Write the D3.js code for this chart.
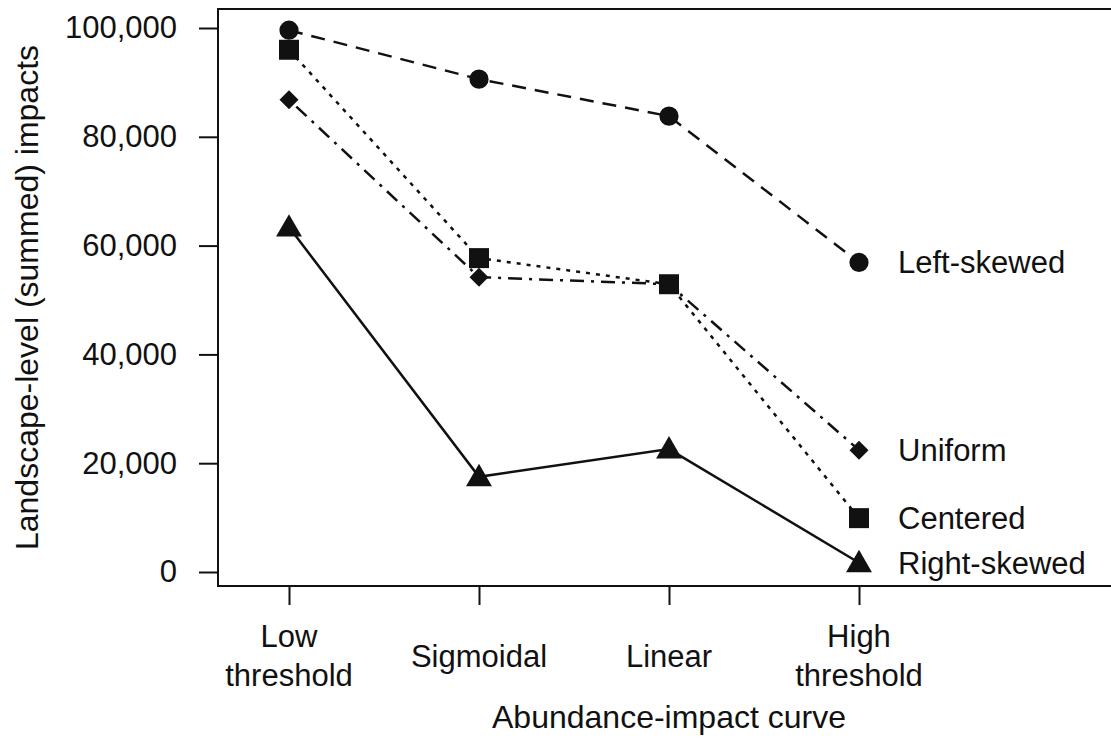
<!DOCTYPE html>
<html>
<head>
<meta charset="utf-8">
<script src="https://cdn.jsdelivr.net/npm/d3@7"></script>
<style>
  html, body { margin: 0; padding: 0; background: #fff; overflow: hidden; }
  svg { display: block; font-family: "Liberation Sans", Arial, sans-serif; }
</style>
</head>
<body>
<svg id="chart" width="1111" height="740"></svg>
<script>
// Abundance-impact curve types (x categories)
const curves = ["Low threshold", "Sigmoidal", "Linear", "High threshold"];
const curveLabelLines = [["Low", "threshold"], ["Sigmoidal"], ["Linear"], ["High", "threshold"]];

// Landscape-level (summed) impacts for each abundance distribution
const leftSkewed  = [99600, 90600, 83800, 56900];
const centered    = [96000, 57700, 52900, 9900];
const uniform     = [86800, 54200, 52900, 22400];
const rightSkewed = [63400, 17500, 22600, 1700];

const seriesNames = ["Left-skewed", "Uniform", "Centered", "Right-skewed"];
const yTicks = [0, 20000, 40000, 60000, 80000, 100000];

const series = [
  { name: seriesNames[0], values: leftSkewed,  symbol: d3.symbolCircle,   size: 290, dash: "14,9" },
  { name: seriesNames[1], values: uniform,     symbol: "diamond",         size: 0,   dash: "3,7,14,7" },
  { name: seriesNames[2], values: centered,    symbol: d3.symbolSquare,   size: 400, dash: "4,6" },
  { name: seriesNames[3], values: rightSkewed, symbol: d3.symbolTriangle, size: 290, dash: null }
];

const svg = d3.select("#chart");
const box = { left: 218, right: 1120, top: 9, bottom: 586 };

const x = d3.scalePoint().domain(curves).range([289, 859]);
const y = d3.scaleLinear().domain([0, 100000]).range([572, 28]);

const ink = "#111";
const tickFont = "31px";
const titleFont = "32px";

// plot frame
svg.append("rect")
  .attr("x", box.left).attr("y", box.top)
  .attr("width", box.right - box.left).attr("height", box.bottom - box.top)
  .attr("fill", "none").attr("stroke", ink).attr("stroke-width", 2);

// y axis
const yAxis = svg.append("g")
  .attr("transform", `translate(${box.left},0)`)
  .call(d3.axisLeft(y).tickValues(yTicks).tickFormat(d3.format(",")).tickSize(19).tickPadding(22));
yAxis.select(".domain").remove();
yAxis.selectAll(".tick line").attr("stroke", ink).attr("stroke-width", 2);
yAxis.selectAll(".tick text").attr("fill", ink).style("font-size", tickFont);

// x axis
const xAxis = svg.append("g")
  .attr("transform", `translate(0,${box.bottom})`)
  .call(d3.axisBottom(x).tickSize(19).tickFormat(""));
xAxis.select(".domain").remove();
xAxis.selectAll(".tick line").attr("stroke", ink).attr("stroke-width", 2);

// multi-line category labels
const xLab = svg.append("g");
curves.forEach((c, i) => {
  const lines = curveLabelLines[i];
  const t = xLab.append("text")
    .attr("x", x(c)).attr("text-anchor", "middle")
    .attr("fill", ink).style("font-size", tickFont);
  lines.forEach((ln, j) => {
    const base = lines.length === 1 ? 667 : 647 + j * 39;
    t.append("tspan").attr("x", x(c)).attr("y", base).text(ln);
  });
});

// axis titles
svg.append("text")
  .attr("x", (box.left + box.right) / 2).attr("y", 728)
  .attr("text-anchor", "middle").attr("fill", ink).style("font-size", titleFont)
  .text("Abundance-impact curve");

svg.append("text")
  .attr("transform", `translate(38,${(box.top + box.bottom) / 2}) rotate(-90)`)
  .attr("text-anchor", "middle").attr("fill", ink).style("font-size", titleFont)
  .text("Landscape-level (summed) impacts");

// lines and markers
const line = d3.line().x((d, i) => x(curves[i])).y(d => y(d));

const diamond = {
  draw(ctx, size) {
    const r = 9.5;
    ctx.moveTo(0, -r); ctx.lineTo(r, 0); ctx.lineTo(0, r); ctx.lineTo(-r, 0); ctx.closePath();
  }
};

series.forEach(s => {
  const p = svg.append("path")
    .datum(s.values)
    .attr("d", line)
    .attr("fill", "none").attr("stroke", ink).attr("stroke-width", 2.5);
  if (s.dash) p.attr("stroke-dasharray", s.dash);

  const sym = d3.symbol().type(s.symbol === "diamond" ? diamond : s.symbol).size(s.size);
  svg.append("g").selectAll("path")
    .data(s.values)
    .join("path")
    .attr("transform", (d, i) => {
      const dy = s.symbol === d3.symbolTriangle ? 2 : 0;
      return `translate(${x(curves[i])},${y(d) + dy})`;
    })
    .attr("d", sym)
    .attr("fill", ink);

  // series label beside the last point
  const last = s.values[s.values.length - 1];
  svg.append("text")
    .attr("x", x(curves[curves.length - 1]) + 39)
    .attr("y", y(last)).attr("dy", "0.35em")
    .attr("fill", ink).style("font-size", tickFont)
    .text(s.name);
});
</script>
</body>
</html>
